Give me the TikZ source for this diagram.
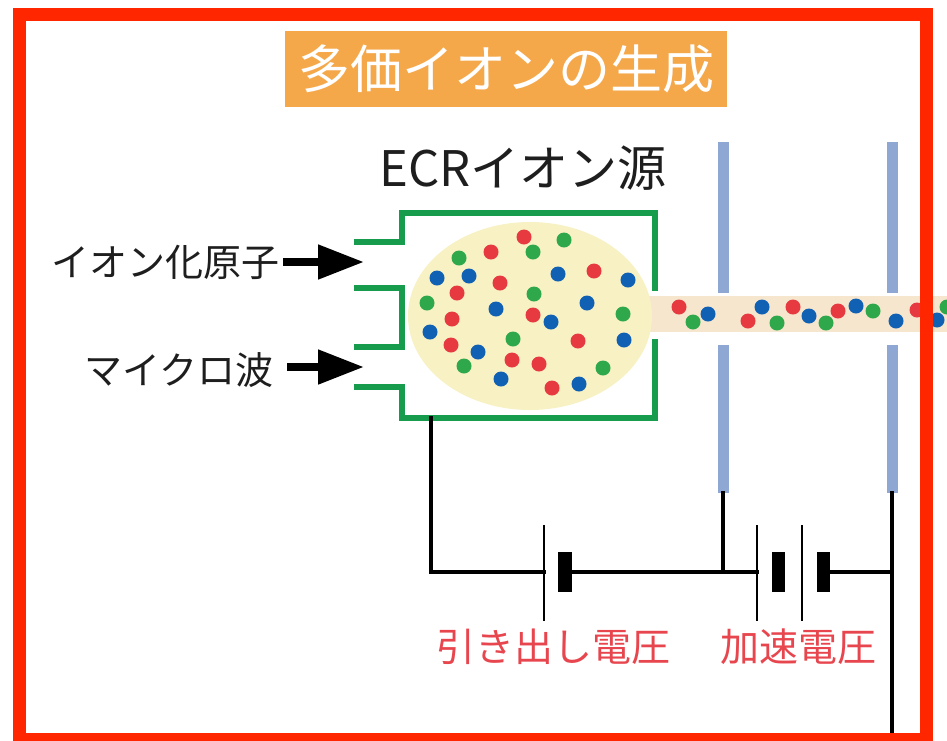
\documentclass[tikz,border=0pt]{standalone}
\usepackage{fontspec}
\setmainfont{Noto Sans CJK JP}
\usetikzlibrary{arrows.meta,shapes.geometric}

\definecolor{framered}{RGB}{255,38,0}
\definecolor{titleorange}{RGB}{245,168,74}
\definecolor{boxgreen}{RGB}{22,156,76}
\definecolor{plasma}{RGB}{247,241,196}
\definecolor{beamtan}{RGB}{246,230,206}
\definecolor{electrode}{RGB}{143,167,211}
\definecolor{ionred}{RGB}{230,58,64}
\definecolor{iongreen}{RGB}{46,168,74}
\definecolor{ionblue}{RGB}{16,96,180}
\definecolor{labelred}{RGB}{232,70,78}
\definecolor{textdark}{RGB}{30,30,30}

\tikzset{
  gbox/.style={draw=boxgreen, line width=5.5pt, line cap=rect},
  wire/.style={draw=black, line width=4.5pt, line cap=rect},
  plate/.style={draw=black, line width=2pt},
  cellbar/.style={fill=black},
  electrodebar/.style={draw=electrode, line width=11pt},
  feed/.style={draw=black, line width=8pt, -{Triangle[length=46pt,width=33pt]}},
  jp/.style={font=\fontsize{#1}{#1}\selectfont, inner sep=0pt},
  ion/.style={radius=7.5}
}

\begin{document}
\begin{tikzpicture}[x=1pt,y=-1pt]
\useasboundingbox (0,0) rectangle (947,740);

% title banner
\node[jp=52, text=white, fill=titleorange, minimum width=442pt, minimum height=76pt] (title) at (506,69) {多価イオンの生成};

% ion source label
\node[jp=49, text=textdark] (ecr) at (523,168) {ECRイオン源};

% extracted ion beam
\fill[beamtan] (600,296) rectangle (960,332);

% plasma chamber
\node[ellipse, fill=plasma, minimum width=244pt, minimum height=188pt, inner sep=0pt] (plasma) at (530,316) {};

% ions in the plasma
\foreach \x/\y in {524/237, 491/252, 594/271, 500/283, 457/293, 452/319, 533/315, 451/345, 578/341, 512/360, 539/364, 552/388}
  \fill[ionred] (\x,\y) circle[ion];
\foreach \x/\y in {564/240, 533/252, 459/258, 534/294, 427/303, 623/314, 513/339, 464/366, 603/368}
  \fill[iongreen] (\x,\y) circle[ion];
\foreach \x/\y in {437/278, 469/276, 558/274, 628/280, 587/303, 496/309, 551/322, 430/332, 624/340, 478/352, 501/379, 579/384}
  \fill[ionblue] (\x,\y) circle[ion];

% ions in the beam
\foreach \x/\y in {679/307, 748/321, 793/307, 838/311, 917/310}
  \fill[ionred] (\x,\y) circle[ion];
\foreach \x/\y in {693/322, 777/323, 826/323, 873/311, 947/307}
  \fill[iongreen] (\x,\y) circle[ion];
\foreach \x/\y in {708/314, 762/307, 809/316, 856/306, 896/321, 937/320}
  \fill[ionblue] (\x,\y) circle[ion];

% chamber walls with inlets
\draw[gbox] (357,242) -- (402,242) -- (402,213) -- (655,213) -- (655,288);
\draw[gbox] (655,342) -- (655,418) -- (402,418) -- (402,387) -- (357,387);
\draw[gbox] (357,288) -- (402,288) -- (402,347) -- (357,347);

% inputs
\node[jp=38, text=textdark, anchor=east] (atoms) at (280,262) {イオン化原子};
\node[jp=38, text=textdark, anchor=east] (micro) at (274,370) {マイクロ波};
\coordinate (inA) at (364,262);
\coordinate (inB) at (364,367);
\draw[feed] (283,262) -- (inA);
\draw[feed] (287,367) -- (inB);

% electrodes
\coordinate (e1top) at (723,142);
\coordinate (e1bot) at (723,493);
\coordinate (e2top) at (892,142);
\coordinate (e2bot) at (892,493);
\draw[electrodebar] (e1top) -- (723,293) (723,345) -- (e1bot);
\draw[electrodebar] (e2top) -- (892,293) (892,345) -- (e2bot);

% circuit
\coordinate (src) at (431,418);
\coordinate (b1p) at (544,572);
\coordinate (b1n) at (572,572);
\coordinate (b2p) at (757,572);
\coordinate (b2n) at (830,572);
\coordinate (j1) at (723,572);
\coordinate (j2) at (892,572);
\draw[wire] (src) -- (431,572) -- (b1p);
\draw[wire] (b1n) -- (b2p);
\draw[wire] (e1bot) -- (j1);
\draw[wire] (b2n) -- (j2);
\draw[wire] (e2bot) -- (892,760);

% extraction battery
\draw[plate] (544,525) -- (544,621);
\fill[cellbar] (558,552) rectangle (572,592);
% acceleration battery
\draw[plate] (757,525) -- (757,621);
\fill[cellbar] (772,552) rectangle (785,592);
\draw[plate] (802,525) -- (802,621);
\fill[cellbar] (817,552) rectangle (830,592);

\node[jp=39, text=labelred] (vext) at (553,647) {引き出し電圧};
\node[jp=39, text=labelred] (vacc) at (798,647) {加速電圧};

% outer frame
\draw[framered, line width=13pt] (19.5,14.5) rectangle (926.5,739.5);
\end{tikzpicture}
\end{document}
